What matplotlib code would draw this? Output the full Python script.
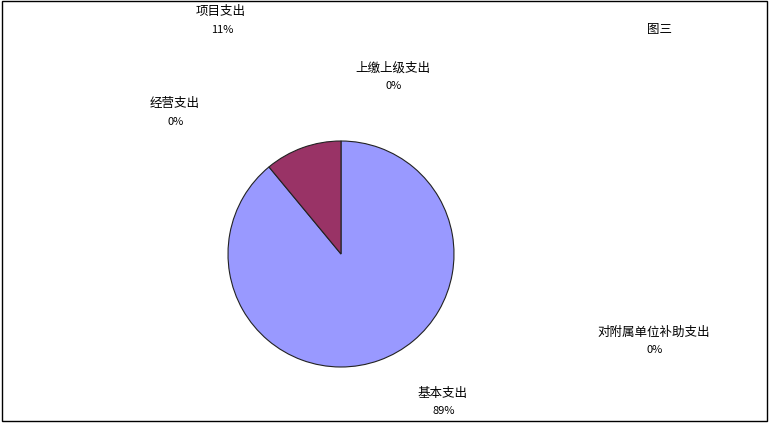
import matplotlib
matplotlib.use("Agg")
import matplotlib.pyplot as plt
from matplotlib.patches import Rectangle

plt.rcParams["font.family"] = ["Noto Sans CJK SC", "DejaVu Sans"]

# data (pie drawn clockwise from 12 o'clock)
categories = ["基本支出", "项目支出", "经营支出", "上缴上级支出", "对附属单位补助支出"]
values = [89, 11, 0, 0, 0]
colors = ["#9999FF", "#993366", "#FFFFCC", "#CCFFFF", "#660066"]
pct_labels = ["89%", "11%", "0%", "0%", "0%"]

# label anchor positions in pixels (centre of the name line)
label_pos = {
    "基本支出": (443, 393),
    "项目支出": (221, 12),
    "经营支出": (175, 104),
    "上缴上级支出": (393, 68),
    "对附属单位补助支出": (654, 332),
}

W, H = 769, 423
fig = plt.figure(figsize=(W / 100, H / 100), dpi=100)

# pie axes: centre (341, 254) px, radius 113 px
cx, cy, r = 341, 254, 113
ax = fig.add_axes([(cx - r) / W, 1 - (cy + r) / H, 2 * r / W, 2 * r / H])
nz = [(v, c) for v, c in zip(values, colors) if v > 0]
ax.pie([v for v, _ in nz], colors=[c for _, c in nz], startangle=90,
       counterclock=False, radius=1,
       wedgeprops=dict(edgecolor="#222222", linewidth=0.8))
ax.set_xlim(-1, 1)
ax.set_ylim(-1, 1)
ax.set_aspect("equal")
ax.axis("off")

for name, pct in zip(categories, pct_labels):
    x, y = label_pos[name]
    fig.text(x / W, 1 - y / H, name, ha="center", va="center", fontsize=9)
    fig.text((x + 1) / W, 1 - (y + 18) / H, pct, ha="center", va="center",
             fontsize=8)

fig.text(659 / W, 1 - 29 / H, "图三", ha="center", va="center", fontsize=9)

# outer frame
fig.patches.append(Rectangle((1.5 / W, 2.5 / H), (W - 4) / W, (H - 4) / H,
                             transform=fig.transFigure, fill=False,
                             edgecolor="black", linewidth=1))

fig.savefig("out.png", dpi=100)
